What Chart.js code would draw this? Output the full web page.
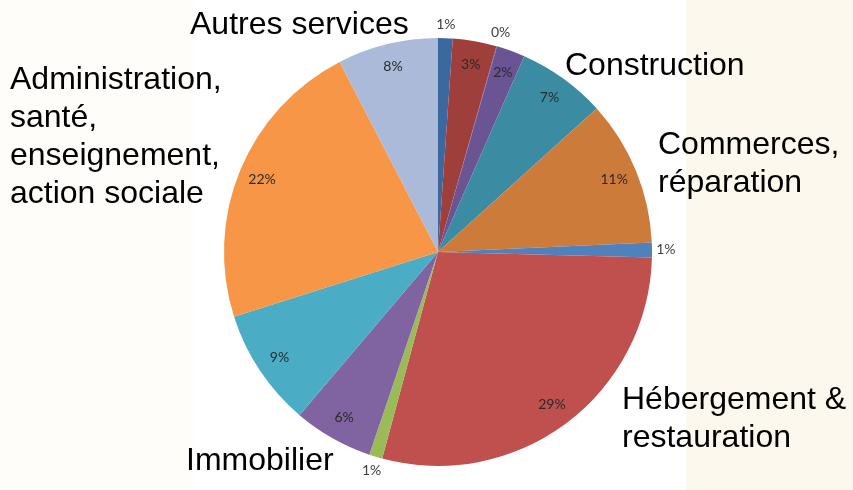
<!DOCTYPE html>
<html>
<head>
<meta charset="utf-8">
<script src="https://cdn.jsdelivr.net/npm/chart.js@4"></script>
<style>
  html, body { margin: 0; padding: 0; }
  body {
    width: 853px; height: 490px; position: relative; overflow: hidden;
    background: linear-gradient(to right, #fefdf9 0px, #fefdf9 194px, #ffffff 194px, #ffffff 686px, #fcf8ee 686px);
    font-family: "Liberation Sans", Arial, sans-serif;
  }
  #wrap { position: absolute; left: 0; top: 0; width: 853px; height: 490px; }
  .lbl { position: absolute; font-size: 32px; line-height: 38px; color: #000; white-space: nowrap; }
</style>
</head>
<body>
<div id="wrap"><canvas id="pieChart" width="853" height="490"></canvas></div>

<div class="lbl" style="left:190px; top:4px;">Autres services</div>
<div class="lbl" style="left:10px; top:59px;">Administration,<br>santé,<br>enseignement,<br>action sociale</div>
<div class="lbl" style="left:565px; top:45px;">Construction</div>
<div class="lbl" style="left:658px; top:124px;">Commerces,<br>réparation</div>
<div class="lbl" style="left:622px; top:379px;">Hébergement &amp;<br>restauration</div>
<div class="lbl" style="left:186px; top:440px;">Immobilier</div>

<script>
// slices, clockwise from the top
var sectors = ['s1', 's2', 's3', 's4', 'Construction', 'Commerces, réparation', 's7',
    'Hébergement & restauration', 's9', 'Immobilier', 's11',
    'Administration, santé, enseignement, action sociale', 'Autres services'];
var shares = [1.1, 3.3, 0.05, 2.15, 6.7, 11.0, 1.1, 28.8, 1.0, 6.0, 8.9, 22.3, 7.6];
var colors = ['#3c68a0', '#9f3f3c', '#6a5494', '#6a5494', '#3b8ca3', '#cd7b3a', '#4f81bd',
    '#c0504d', '#9bbb59', '#8064a2', '#4bacc6', '#f79646', '#aabad8'];

// percentage labels: inside for big slices, outside for tiny ones
var pctLabels = {
    id: 'pctLabels',
    afterDatasetsDraw: function(chart) {
        var ctx = chart.ctx;
        var meta = chart.getDatasetMeta(0);
        ctx.save();
        ctx.font = '14px Lato, "Open Sans", sans-serif';
        ctx.textAlign = 'center';
        ctx.textBaseline = 'middle';
        meta.data.forEach(function(arc, i) {
            var p = arc.getProps(['x', 'y', 'startAngle', 'endAngle', 'outerRadius'], true);
            var mid = (p.startAngle + p.endAngle) / 2;
            var r = shares[i] < 1.5 ? p.outerRadius * 1.065 : p.outerRadius * 0.89;
            ctx.fillStyle = shares[i] < 1.5 ? '#404040' : '#2a2a2a';
            ctx.fillText(Math.round(shares[i]) + '%', p.x + Math.cos(mid) * r, p.y + Math.sin(mid) * r);
        });
        ctx.restore();
    }
};

var ctx = document.getElementById('pieChart').getContext('2d');
var chart = new Chart(ctx, {
    type: 'pie',
    data: {
        labels: sectors,
        datasets: [{
            data: shares,
            backgroundColor: colors,
            borderWidth: 0
        }]
    },
    options: {
        responsive: false,
        animation: false,
        layout: { padding: { left: 100, right: 77, top: 38, bottom: 24 } },
        plugins: {
            legend: { display: false },
            tooltip: { enabled: false }
        }
    },
    plugins: [pctLabels]
});
</script>
</body>
</html>
